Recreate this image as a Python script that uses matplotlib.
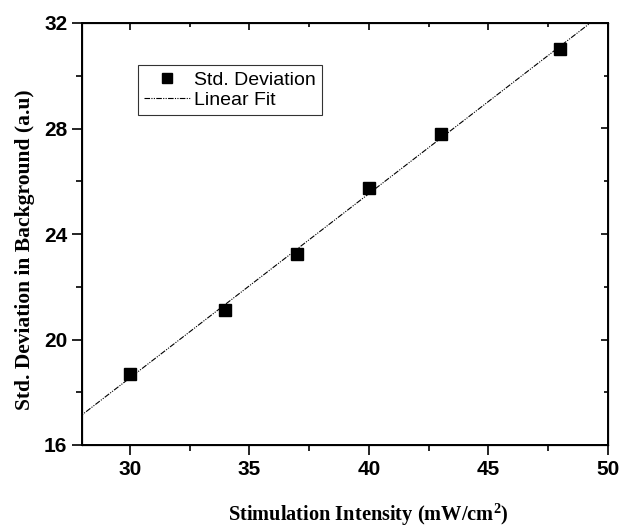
import matplotlib.pyplot as plt
import numpy as np

# measured values
intensity = [30, 34, 37, 40, 43, 48]
std_dev = [18.69, 21.12, 23.24, 25.74, 27.79, 31.01]

# linear fit of the points
slope, intercept = np.polyfit(intensity, std_dev, 1)
fit_x = np.array([27, 51])
fit_y = slope * fit_x + intercept

major_x = [30, 35, 40, 45, 50]
minor_x = [32.5, 37.5, 42.5, 47.5]
major_y = [16, 20, 24, 28, 32]
minor_y = [18, 22, 26, 30]

plt.rcParams['mathtext.fontset'] = 'custom'
plt.rcParams['mathtext.bf'] = 'Liberation Serif:bold'

fig = plt.figure(figsize=(6.3, 5.28), dpi=100)
ax = fig.add_axes([82/630, 1 - 445/528, 526/630, 422/528])

ax.plot(intensity, std_dev, 's', color='black', markersize=9, label='Std. Deviation', zorder=3)
ax.plot(fit_x, fit_y, color='black', linewidth=0.8,
        linestyle=(0, (5, 1.2, 1, 1.2, 1, 1.2)), label='Linear Fit')

ax.set_xlim(28, 50)
ax.set_ylim(16, 32)
ax.set_xticks(major_x)
ax.set_xticks(minor_x, minor=True)
ax.set_yticks(major_y)
ax.set_yticks(minor_y, minor=True)

for side in ax.spines.values():
    side.set_linewidth(1.4)

ax.tick_params(which='both', direction='out', width=1.2, top=False, right=False)
ax.tick_params(which='major', length=7)
ax.tick_params(which='minor', length=4)

# inward ticks on top and right
ax2 = ax.twinx()
ax2.set_ylim(ax.get_ylim())
ax2.set_yticks(major_y)
ax2.set_yticks(minor_y, minor=True)
ax2.tick_params(which='both', direction='in', width=1.2, labelright=False)
ax2.tick_params(which='major', length=5)
ax2.tick_params(which='minor', length=3)
ax3 = ax.twiny()
ax3.set_xlim(ax.get_xlim())
ax3.set_xticks(major_x)
ax3.set_xticks(minor_x, minor=True)
ax3.tick_params(which='both', direction='in', width=1.2, labeltop=False)
ax3.tick_params(which='major', length=5)
ax3.tick_params(which='minor', length=3)

for lab in ax.get_xticklabels() + ax.get_yticklabels():
    lab.set_fontfamily('Liberation Sans')
    lab.set_fontweight('bold')
    lab.set_fontsize(15)

ax.set_xlabel('Stimulation Intensity (mW/cm$^\\mathbf{2}$)', family='Liberation Serif',
              fontweight='bold', fontsize=14.7)
ax.xaxis.set_label_coords(0.544, -0.133)
ax.set_ylabel('Std. Deviation in Background (a.u)', family='Liberation Serif',
              fontweight='bold', fontsize=15.5)
ax.yaxis.set_label_coords(-0.09, 0.462)

leg = ax.legend(loc='upper left', bbox_to_anchor=(0.106, 0.9), frameon=True, fancybox=False,
                edgecolor='black', prop={'family': 'Liberation Sans', 'size': 14},
                handlelength=2.4, handletextpad=0.2, borderpad=0.3, labelspacing=0.15,
                markerscale=0.85, borderaxespad=0)
leg.get_frame().set_linewidth(0.8)

fig.savefig('out.png', dpi=100)
